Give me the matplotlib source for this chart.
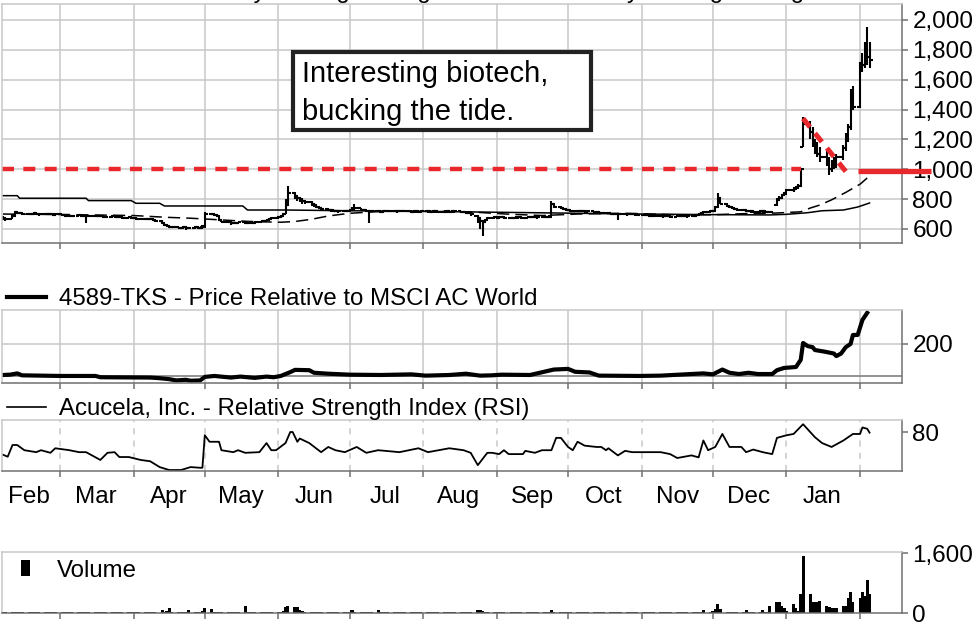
import pandas as pd
import matplotlib
matplotlib.use("Agg")
import matplotlib.pyplot as plt
import matplotlib.dates as mdates
from matplotlib.lines import Line2D
from matplotlib.patches import Rectangle
from matplotlib.ticker import FuncFormatter

plt.rcParams["font.family"] = ["Liberation Sans", "DejaVu Sans"]

# daily bars, Feb 2015 - Feb 2016
days = pd.bdate_range("2015-02-05", "2016-02-05")

opens = (
    [680, 672, 668, 695, 712, 708, 704, 700, 702, 698, 705, 700, 697, 702, 699, 700, 696]
    + [698, 694, 690, 692, 688, 690, 693, 688, 685, 690, 687, 684, 688, 686, 683, 680, 684, 682, 678, 680, 676, 679]
    + [675, 672, 670, 668, 665, 670, 666, 662, 655, 640, 626, 618, 614, 612, 609, 607, 610, 606, 608, 611, 607, 607]
    + [620, 702, 698, 695, 690, 660, 650, 645, 640, 642, 638, 645, 643, 640, 645, 642, 648, 652, 655, 662, 668]
    + [675, 678, 685, 700, 760, 840, 820, 805, 795, 790, 780, 770, 760, 750, 742, 735, 728, 725, 720, 722, 718, 722]
    + [720, 725, 732, 738, 730, 726, 722, 718, 722, 720, 716, 718, 722, 719, 721, 718, 720, 722, 719, 717, 720, 718, 716]
    + [719, 718, 716, 720, 718, 715, 717, 719, 716, 720, 718, 715, 713, 710, 705, 690, 672, 652, 648, 662, 672]
    + [678, 675, 678, 680, 676, 672, 675, 680, 678, 676, 680, 682, 679, 681, 678, 680, 683, 690, 765, 748, 740, 733]
    + [728, 725, 722, 720, 718, 722, 716, 718, 715, 712, 710, 708, 705, 703, 700, 702, 698, 700, 697, 699, 700, 698]
    + [696, 695, 693, 690, 688, 690, 686, 684, 688, 685, 683, 686, 690, 688, 685, 684, 690, 694, 700, 706, 712]
    + [718, 722, 745, 805, 770, 752, 745, 740, 735, 730, 726, 722, 720, 718, 716, 720, 718, 715, 712, 760, 795, 810, 825]
    + [840, 860, 870, 880, 890, 1150, 1300, 1250, 1170, 1150, 1100, 1080, 1050, 1000, 1040, 1020, 1080, 1140, 1200, 1280, 1410]
    + [1420, 1710, 1700, 1820, 1750]
)
highs = (
    [690, 680, 700, 722, 716, 712, 708, 708, 706, 710, 708, 704, 708, 705, 706, 704, 704]
    + [702, 700, 697, 696, 695, 698, 697, 692, 694, 693, 690, 692, 692, 690, 686, 688, 688, 686, 684, 684, 683, 682]
    + [680, 678, 675, 672, 676, 674, 670, 666, 658, 645, 630, 622, 618, 616, 613, 615, 614, 613, 616, 614, 616, 618]
    + [712, 708, 704, 700, 692, 664, 656, 650, 648, 648, 648, 650, 648, 650, 648, 655, 658, 662, 668, 676, 682]
    + [688, 692, 710, 800, 888, 850, 825, 815, 805, 795, 785, 775, 765, 752, 745, 738, 732, 728, 728, 726, 728, 726]
    + [732, 745, 768, 742, 734, 730, 726, 728, 726, 724, 724, 728, 726, 727, 725, 726, 728, 726, 724, 726, 724, 722, 725]
    + [726, 724, 726, 725, 722, 724, 726, 724, 726, 725, 722, 720, 717, 712, 708, 694, 678, 660, 668, 678, 684]
    + [684, 684, 686, 684, 680, 682, 686, 684, 682, 686, 688, 686, 687, 684, 686, 690, 688, 790, 770, 752, 745, 738]
    + [734, 730, 728, 726, 728, 726, 724, 722, 720, 716, 714, 712, 710, 707, 708, 705, 706, 704, 705, 706, 705, 702]
    + [702, 700, 698, 695, 696, 694, 690, 694, 692, 690, 692, 696, 695, 692, 690, 696, 700, 708, 714, 720, 728]
    + [730, 752, 840, 810, 775, 758, 750, 745, 740, 734, 730, 728, 725, 724, 726, 725, 722, 720, 722, 805, 822, 835, 850]
    + [870, 880, 890, 900, 1000, 1350, 1320, 1280, 1200, 1180, 1150, 1120, 1080, 1060, 1080, 1100, 1160, 1240, 1300, 1540, 1560]
    + [1720, 1780, 1850, 1950, 1850]
)
lows = (
    [660, 655, 665, 690, 700, 698, 694, 696, 692, 695, 694, 690, 694, 692, 694, 690, 690]
    + [688, 686, 684, 682, 684, 686, 682, 680, 640, 682, 678, 680, 680, 676, 674, 676, 676, 672, 674, 670, 672, 668]
    + [668, 664, 662, 658, 662, 660, 655, 648, 636, 620, 612, 605, 604, 600, 598, 600, 596, 600, 602, 598, 602, 602]
    + [615, 692, 690, 684, 655, 644, 638, 625, 634, 630, 632, 636, 634, 636, 636, 640, 645, 648, 652, 660, 665]
    + [670, 674, 682, 700, 755, 800, 790, 780, 770, 765, 755, 745, 738, 732, 726, 720, 716, 712, 714, 710, 714, 712]
    + [714, 720, 726, 722, 718, 718, 640, 712, 712, 708, 710, 714, 712, 714, 710, 712, 714, 712, 710, 712, 710, 708, 712]
    + [710, 709, 712, 710, 708, 710, 712, 708, 712, 710, 708, 706, 702, 698, 690, 640, 600, 555, 640, 660, 668]
    + [668, 668, 672, 668, 664, 666, 672, 670, 668, 672, 675, 672, 674, 670, 672, 676, 675, 685, 740, 732, 725, 720]
    + [718, 716, 714, 712, 714, 710, 710, 708, 705, 703, 700, 698, 697, 694, 694, 660, 692, 690, 692, 693, 690, 688]
    + [688, 686, 683, 680, 682, 678, 676, 680, 678, 676, 678, 682, 680, 678, 676, 682, 686, 692, 698, 704, 708]
    + [714, 718, 740, 765, 745, 738, 732, 728, 722, 718, 714, 712, 710, 708, 710, 710, 706, 704, 706, 755, 790, 800, 818]
    + [830, 850, 860, 870, 880, 1150, 1200, 1150, 1100, 1080, 1050, 1020, 960, 980, 1000, 1010, 1060, 1120, 1180, 1260, 1400]
    + [1410, 1650, 1680, 1700, 1680]
)
closes = (
    [672, 668, 690, 712, 708, 704, 700, 702, 698, 705, 700, 697, 702, 699, 700, 696, 698]
    + [694, 690, 692, 688, 690, 693, 688, 685, 690, 687, 684, 688, 686, 683, 680, 684, 682, 678, 680, 676, 679, 675]
    + [672, 670, 668, 665, 670, 666, 662, 655, 640, 626, 618, 614, 612, 609, 607, 610, 606, 608, 611, 607, 612, 614]
    + [702, 698, 695, 690, 660, 650, 645, 640, 642, 638, 645, 643, 640, 645, 642, 648, 652, 655, 662, 668, 675]
    + [678, 685, 700, 760, 840, 820, 805, 795, 790, 780, 770, 760, 750, 742, 735, 728, 725, 720, 722, 718, 722, 720]
    + [725, 732, 738, 730, 726, 722, 718, 722, 720, 716, 718, 722, 719, 721, 718, 720, 722, 719, 717, 720, 718, 716, 719]
    + [718, 716, 720, 718, 715, 717, 719, 716, 720, 718, 715, 713, 710, 705, 698, 672, 652, 648, 662, 672, 678]
    + [675, 678, 680, 676, 672, 675, 680, 678, 676, 680, 682, 679, 681, 678, 680, 683, 682, 765, 748, 740, 733, 728]
    + [725, 722, 720, 718, 722, 716, 718, 715, 712, 710, 708, 705, 703, 700, 702, 698, 700, 697, 699, 700, 698, 696]
    + [695, 693, 690, 688, 690, 686, 684, 688, 685, 683, 686, 690, 688, 685, 684, 690, 694, 700, 706, 712, 718]
    + [722, 745, 805, 770, 752, 745, 740, 735, 730, 726, 722, 720, 718, 716, 720, 718, 715, 712, 715, 795, 810, 825, 840]
    + [860, 870, 880, 890, 1000, 1300, 1250, 1170, 1150, 1100, 1080, 1050, 1000, 1040, 1020, 1080, 1140, 1200, 1280, 1410, 1420]
    + [1710, 1700, 1820, 1750, 1730]
)
volume = (
    [30, 25, 35, 40, 25, 20, 25, 20, 25, 20, 25, 20, 25, 20, 20, 25, 20]
    + [20, 25, 20, 20, 25, 20, 40, 20, 20, 25, 20, 20, 25, 20, 20, 25, 20, 20, 25, 20, 20, 25]
    + [20, 20, 25, 20, 20, 25, 20, 25, 80, 40, 50, 130, 40, 25, 20, 25, 30, 80, 40, 25, 30, 60]
    + [130, 100, 40, 30, 25, 20, 25, 20, 20, 25, 20, 190, 40, 25, 20, 25, 20, 20, 25, 20, 30]
    + [30, 40, 60, 160, 190, 170, 150, 80, 50, 40, 30, 30, 25, 25, 20, 25, 20, 20, 25, 20, 20, 25]
    + [30, 70, 40, 25, 20, 25, 20, 25, 70, 25, 20, 25, 20, 20, 25, 20, 20, 25, 20, 20, 25, 20, 20]
    + [20, 25, 20, 20, 25, 20, 20, 25, 20, 20, 25, 20, 20, 25, 20, 70, 80, 60, 30, 25, 20]
    + [20, 25, 20, 20, 25, 20, 20, 25, 20, 20, 25, 20, 20, 25, 20, 20, 25, 80, 40, 25, 20, 20]
    + [20, 25, 20, 20, 25, 20, 20, 25, 20, 20, 25, 20, 20, 25, 20, 20, 25, 20, 20, 25, 20, 20]
    + [20, 25, 20, 20, 25, 20, 20, 25, 20, 20, 25, 20, 20, 25, 20, 20, 25, 20, 25, 70, 30]
    + [60, 100, 240, 110, 40, 30, 25, 25, 25, 30, 70, 25, 25, 25, 25, 70, 30, 30, 190, 290, 290, 190, 130]
    + [60, 240, 130, 60, 510, 1520, 510, 290, 290, 290, 320, 190, 160, 130, 130, 130, 190, 190, 400, 560, 290]
    + [400, 560, 450, 880, 510]
)

# moving averages (solid = long, dashed = short)
ma_long_dates = ["2015-02-05", "2015-02-11", "2015-02-12", "2015-03-12", "2015-03-13", "2015-03-31",
                 "2015-04-02", "2015-04-12", "2015-04-14", "2015-05-17", "2015-05-19", "2015-06-04",
                 "2015-07-01", "2015-08-01", "2015-09-01", "2015-10-01", "2015-11-01", "2015-12-01",
                 "2015-12-25", "2016-01-01", "2016-01-10", "2016-01-16", "2016-01-25", "2016-01-31",
                 "2016-02-05"]
ma_long = [823, 823, 806, 806, 790, 790, 772, 772, 754, 754, 727, 727, 722, 718, 712, 706, 700, 696,
           694, 698, 709, 722, 727, 747, 774]
ma_short_dates = ["2015-02-05", "2015-03-01", "2015-04-01", "2015-04-15", "2015-04-25", "2015-05-03",
                  "2015-05-20", "2015-06-02", "2015-06-08", "2015-06-15", "2015-06-22", "2015-07-01",
                  "2015-07-15", "2015-08-01", "2015-08-20", "2015-09-05", "2015-09-20", "2015-10-05",
                  "2015-10-25", "2015-11-15", "2015-12-01", "2015-12-15", "2015-12-28", "2016-01-07",
                  "2016-01-11", "2016-01-15", "2016-01-20", "2016-01-26", "2016-02-01", "2016-02-05"]
ma_short = [700, 697, 690, 678, 672, 665, 650, 645, 650, 665, 687, 705, 718, 718, 715, 700, 690, 700,
            705, 695, 695, 703, 707, 715, 740, 760, 795, 845, 900, 955]

# price relative to MSCI AC World
rel_dates = ["2015-02-05", "2015-02-08", "2015-02-11", "2015-02-13", "2015-03-01", "2015-03-16",
             "2015-03-18", "2015-04-08", "2015-04-12", "2015-04-16", "2015-04-19", "2015-04-23",
             "2015-04-25", "2015-04-29", "2015-05-01", "2015-05-05", "2015-05-12", "2015-05-16",
             "2015-05-22", "2015-05-27", "2015-05-30", "2015-06-02", "2015-06-06", "2015-06-08",
             "2015-06-14", "2015-06-16", "2015-06-22", "2015-07-01", "2015-07-14", "2015-07-27",
             "2015-08-02", "2015-08-12", "2015-08-19", "2015-08-25", "2015-08-30", "2015-09-03",
             "2015-09-15", "2015-09-25", "2015-10-01", "2015-10-04", "2015-10-10", "2015-10-14",
             "2015-10-31", "2015-11-09", "2015-11-27", "2015-12-01", "2015-12-05", "2015-12-08",
             "2015-12-12", "2015-12-16", "2015-12-20", "2015-12-26", "2015-12-28", "2015-12-31",
             "2016-01-05", "2016-01-07", "2016-01-08", "2016-01-10", "2016-01-12", "2016-01-13",
             "2016-01-17", "2016-01-21", "2016-01-22", "2016-01-24", "2016-01-26", "2016-01-28",
             "2016-01-29", "2016-01-31", "2016-02-02", "2016-02-04"]
rel = [103, 104, 108, 102, 100, 100, 96, 95, 93, 90, 86, 88, 85, 86, 97, 100, 95, 98, 94, 98, 96,
       100, 112, 119, 118, 110, 107, 104, 103, 105, 101, 103, 107, 101, 102, 104, 103, 120, 122, 113,
       111, 101, 100, 101, 108, 105, 120, 110, 106, 110, 106, 106, 118, 125, 128, 150, 203, 193, 190,
       181, 176, 170, 162, 170, 190, 200, 228, 228, 275, 297]

# RSI
rsi_dates = ["2015-02-05", "2015-02-07", "2015-02-09", "2015-02-11", "2015-02-14", "2015-02-19",
             "2015-02-21", "2015-02-25", "2015-02-27", "2015-03-05", "2015-03-09", "2015-03-12",
             "2015-03-18", "2015-03-21", "2015-03-24", "2015-03-26", "2015-03-30", "2015-04-04",
             "2015-04-08", "2015-04-12", "2015-04-16", "2015-04-21", "2015-04-25", "2015-04-29",
             "2015-04-30", "2015-05-01", "2015-05-03", "2015-05-07", "2015-05-08", "2015-05-13",
             "2015-05-15", "2015-05-18", "2015-05-24", "2015-05-27", "2015-05-29", "2015-05-31",
             "2015-06-04", "2015-06-06", "2015-06-07", "2015-06-09", "2015-06-10", "2015-06-14",
             "2015-06-19", "2015-06-22", "2015-06-25", "2015-06-29", "2015-07-04", "2015-07-08",
             "2015-07-13", "2015-07-22", "2015-07-30", "2015-08-03", "2015-08-12", "2015-08-18",
             "2015-08-21", "2015-08-24", "2015-08-28", "2015-08-30", "2015-09-02", "2015-09-04",
             "2015-09-06", "2015-09-12", "2015-09-13", "2015-09-17", "2015-09-20", "2015-09-24",
             "2015-09-26", "2015-09-28", "2015-10-01", "2015-10-03", "2015-10-05", "2015-10-08",
             "2015-10-13", "2015-10-15", "2015-10-17", "2015-10-18", "2015-10-22", "2015-10-25",
             "2015-10-28", "2015-11-02", "2015-11-06", "2015-11-09", "2015-11-13", "2015-11-16",
             "2015-11-19", "2015-11-22", "2015-11-25", "2015-11-27", "2015-11-29", "2015-12-02",
             "2015-12-05", "2015-12-08", "2015-12-13", "2015-12-15", "2015-12-18", "2015-12-22",
             "2015-12-26", "2015-12-28", "2016-01-01", "2016-01-04", "2016-01-08", "2016-01-11",
             "2016-01-13", "2016-01-16", "2016-01-20", "2016-01-25", "2016-01-29", "2016-02-01",
             "2016-02-02", "2016-02-04", "2016-02-05"]
rsi = [45, 42, 60, 60, 52, 49, 52, 48, 55, 52, 49, 49, 37, 48, 49, 41.5, 41.5, 37, 35, 26, 21.5,
       21.5, 26, 25, 25, 75, 65, 65, 52, 49, 52, 48, 49, 63, 52, 52, 63, 80, 80, 65, 70, 63, 49, 57,
       52, 49, 57, 48, 52, 49, 55, 49, 55, 52, 48, 29, 48, 48, 46, 52, 46, 46, 51, 48, 52, 52, 71,
       71, 57, 52, 65, 59, 57, 57, 52, 55, 44, 51, 49, 49, 49, 49, 46, 40, 42, 44, 41, 67, 52, 57,
       77, 57, 57, 49, 53, 49, 46, 71, 75, 77, 92, 80, 72, 63, 57, 67, 77, 77, 87, 85, 79]

# red trend annotations
red_level = 1000
red_level_end = "2016-01-07"
red_trend_dates = ["2016-01-08", "2016-01-26"]
red_trend = [1340, 985]
red_support_dates = ["2016-01-31", "2016-03-02"]
red_support = [990, 990]

month_labels = pd.date_range("2015-02-01", "2016-01-01", freq="MS") + pd.Timedelta(days=15)

GRID = "#c8c8c8"
SPINE = "#707070"
RED = "#e8282c"
FS = 17.5
LFS = 17.3
x0 = mdates.date2num(pd.Timestamp("2015-02-04 14:00"))
x1 = mdates.date2num(pd.Timestamp("2016-02-18 16:00"))
fmt = FuncFormatter(lambda v, p: f"{v:,.0f}")

fig = plt.figure(figsize=(9.8, 6.26), dpi=100)
L, W = 2 / 980, 900 / 980
ax_p = fig.add_axes([L, 1 - 243 / 626, W, 239 / 626])
ax_r = fig.add_axes([L, 1 - 383 / 626, W, 73 / 626])
ax_s = fig.add_axes([L, 1 - 471 / 626, W, 51 / 626])
ax_v = fig.add_axes([L, 1 - 613 / 626, W, 61 / 626])

for ax in (ax_p, ax_r, ax_s, ax_v):
    ax.set_xlim(x0, x1)
    ax.set_facecolor("none")
    for s in ("top", "left"):
        ax.spines[s].set_color(GRID)
        ax.spines[s].set_linewidth(1.1)
    for s in ("right", "bottom"):
        ax.spines[s].set_color(SPINE)
        ax.spines[s].set_linewidth(1.1)
    ax.yaxis.tick_right()
    ax.xaxis.set_major_locator(mdates.MonthLocator())
    ax.tick_params(axis="both", which="major", direction="out", length=4.5, width=1.1,
                   color=SPINE, labelsize=FS, pad=3)
    ax.tick_params(axis="x", labelbottom=False)
    ax.set_axisbelow(True)

dn = mdates.date2num(days)

# price panel
ax_p.set_ylim(506, 2107)
ax_p.set_yticks(range(600, 2001, 200))
ax_p.yaxis.set_major_formatter(fmt)
ax_p.grid(True, color=GRID, lw=1.1)
ax_p.plot(pd.to_datetime(ma_long_dates), ma_long, color="k", lw=1.1)
ax_p.plot(pd.to_datetime(ma_short_dates), ma_short, color="k", lw=1.1, dashes=(8, 4))
ax_p.vlines(dn, lows, highs, color="k", lw=1.5)
ax_p.hlines(opens, dn - 1.4, dn, color="k", lw=1.5)
ax_p.hlines(closes, dn, dn + 1.4, color="k", lw=1.5)
ax_p.plot([x0, mdates.date2num(pd.Timestamp(red_level_end))], [red_level, red_level],
          color=RED, lw=3.2, dashes=(2.7, 2.1))
ax_p.plot(pd.to_datetime(red_trend_dates), red_trend, color=RED, lw=3.6, dashes=(2.2, 1.6))
ax_p.plot(pd.to_datetime(red_support_dates), red_support, color=RED, lw=3.8, clip_on=False,
          solid_capstyle="butt", zorder=5)

# relative panel
ax_r.set_ylim(78, 306)
ax_r.set_yticks([200])
ax_r.grid(True, color=GRID, lw=1.1)
ax_r.axhline(100, color="#8a8a8a", lw=1.3)
ax_r.plot(pd.to_datetime(rel_dates), rel, color="k", lw=3)
ax_r.legend([Line2D([], [], color="k", lw=3)], ["4589-TKS - Price Relative to MSCI AC World"],
            loc="lower left", bbox_to_anchor=(0.006, 1.0), frameon=False, fontsize=LFS,
            handlelength=1.6, handletextpad=0.55, borderpad=0, borderaxespad=0.0)

# RSI panel
ax_s.set_ylim(20, 98.5)
ax_s.set_yticks([80])
ax_s.grid(True, axis="x", color=GRID, lw=1.1, ls=(0, (4, 4)))
ax_s.plot(pd.to_datetime(rsi_dates), rsi, color="k", lw=1.3)
ax_s.set_xticks(mdates.date2num(month_labels), minor=True)
ax_s.xaxis.set_minor_formatter(mdates.DateFormatter("%b"))
ax_s.tick_params(axis="x", which="minor", length=0, labelsize=FS, pad=11)
ax_s.legend([Line2D([], [], color="k", lw=1.2)], ["Acucela, Inc. - Relative Strength Index (RSI)"],
            loc="lower left", bbox_to_anchor=(0.006, 1.0), frameon=False, fontsize=LFS,
            handlelength=1.6, handletextpad=0.55, borderpad=0, borderaxespad=0.0)

# volume panel
ax_v.set_ylim(0, 1627)
ax_v.set_yticks([0, 1600])
ax_v.yaxis.set_major_formatter(fmt)
bars = ax_v.bar(dn, volume, width=1.3, color="k")
ax_v.legend([bars], ["Volume"], loc="upper left", frameon=False, fontsize=LFS,
            handlelength=0.35, handleheight=0.65, handletextpad=1.15, borderpad=0.2,
            borderaxespad=0.0, bbox_to_anchor=(0.016, 0.95))

# clipped legend line at the very top
fig.text(60 / 980, 1 + 2 / 626, "4589-TKS - 50 Day Moving Average", fontsize=LFS, va="baseline")
fig.text(420 / 980, 1 + 2 / 626, "4589-TKS - 200 Day Moving Average", fontsize=LFS, va="baseline")

# comment box
fig.patches.append(Rectangle((293 / 980, 1 - 130 / 626), 298 / 980, 78 / 626,
                             transform=fig.transFigure, fill=True, facecolor="white",
                             edgecolor="#222222", lw=3, zorder=10))
fig.text(302 / 980, 1 - 93 / 626, "Interesting biotech,\nbucking the tide.", fontsize=21,
         va="center", ha="left", linespacing=1.5, zorder=11)

fig.savefig("out.png", dpi=100)
